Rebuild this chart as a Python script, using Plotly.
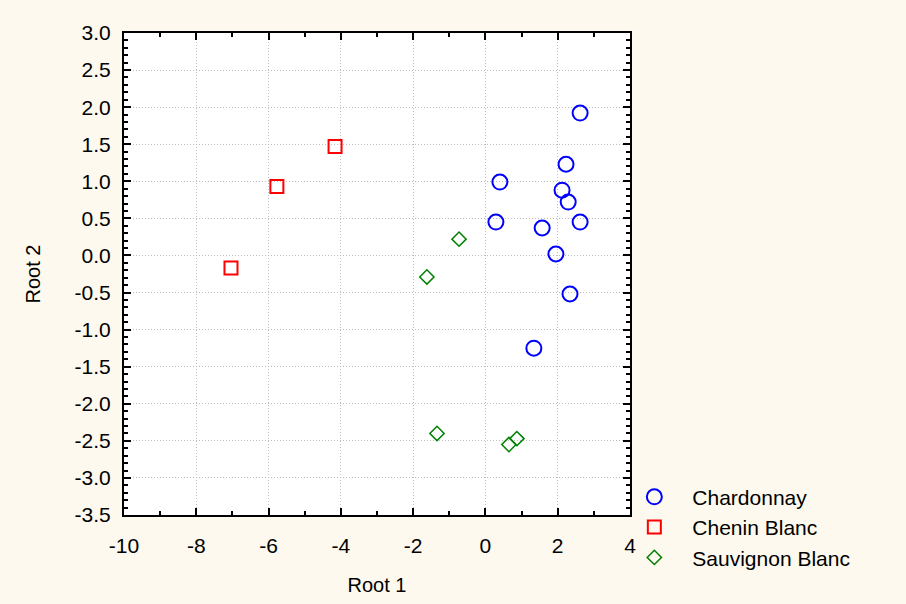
import plotly.graph_objects as go

chard_x = [2.62, 2.23, 0.40, 2.12, 2.29, 0.29, 2.62, 1.57, 1.95, 2.34, 1.34]
chard_y = [1.92, 1.23, 0.99, 0.88, 0.72, 0.45, 0.45, 0.37, 0.02, -0.52, -1.25]
chenin_x = [-4.16, -5.77, -7.04]
chenin_y = [1.47, 0.93, -0.17]
sauv_x = [-0.73, -1.62, -1.34, 0.65, 0.87]
sauv_y = [0.22, -0.29, -2.40, -2.55, -2.47]

x_ticks = [-10, -8, -6, -4, -2, 0, 2, 4]
y_ticks = [3.0, 2.5, 2.0, 1.5, 1.0, 0.5, 0.0, -0.5, -1.0, -1.5, -2.0, -2.5, -3.0, -3.5]

FONT = "Liberation Sans, Arial, sans-serif"

fig = go.Figure()
fig.add_trace(go.Scatter(x=chard_x, y=chard_y, mode="markers", name="Chardonnay",
                         legendgroup="a",
                         marker=dict(symbol="circle-open", size=15, color="#0000FF",
                                     line=dict(width=2, color="#0000FF"))))
fig.add_trace(go.Scatter(x=chenin_x, y=chenin_y, mode="markers", name="Chenin Blanc",
                         legendgroup="b",
                         marker=dict(symbol="square-open", size=13, color="#FF0000",
                                     line=dict(width=2, color="#FF0000"))))
fig.add_trace(go.Scatter(x=sauv_x, y=sauv_y, mode="markers", name="Sauvignon Blanc",
                         legendgroup="c",
                         marker=dict(symbol="diamond-open", size=11, color="#008000",
                                     line=dict(width=1.5, color="#008000"))))

axis_common = dict(
    showline=True, linecolor="black", linewidth=2, mirror="ticks",
    ticks="inside", ticklen=7, tickwidth=2, tickcolor="black",
    showgrid=True, gridcolor="#BEBEBE", griddash="1px,2px", gridwidth=1,
    zeroline=False,
    tickfont=dict(family=FONT, size=21, color="black"),
    title_font=dict(family=FONT, size=20, color="black"),
)

fig.update_xaxes(**axis_common, range=[-10, 4], tickvals=x_ticks,
                 ticktext=[str(v) for v in x_ticks],
                 minor=dict(dtick=1, tick0=-10, ticks="inside", ticklen=4, tickwidth=2,
                            tickcolor="black", showgrid=False),
                 ticklabelstandoff=11,
                 title=dict(text="Root 1", standoff=22))
fig.update_yaxes(**axis_common, range=[-3.5, 3], tickvals=y_ticks,
                 ticktext=[f"{v:.1f}" for v in y_ticks],
                 minor=dict(dtick=0.1, tick0=-3.5, ticks="inside", ticklen=4, tickwidth=2,
                            tickcolor="black", showgrid=False),
                 ticklabelstandoff=7,
                 title=dict(text="Root 2", standoff=29))

fig.update_layout(
    width=906, height=604,
    margin=dict(l=124, r=276, t=33, b=89),
    paper_bgcolor="#FDF9EE", plot_bgcolor="white",
    font=dict(family=FONT, size=20, color="black"),
    legend=dict(x=0.973, y=-0.13, xanchor="left", yanchor="bottom",
                bgcolor="rgba(0,0,0,0)", tracegroupgap=0, itemwidth=66,
                font=dict(family=FONT, size=21, color="black")),
    showlegend=True,
)

fig.write_html("out.html")
